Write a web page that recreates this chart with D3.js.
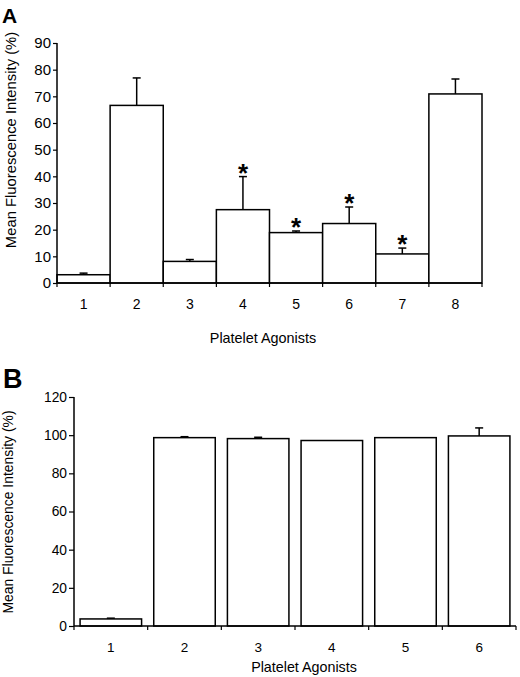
<!DOCTYPE html>
<html>
<head>
<meta charset="utf-8">
<script src="https://cdn.jsdelivr.net/npm/d3@7"></script>
<style>
  body { margin: 0; background: #fff; }
  text { font-family: "Liberation Sans", Arial, sans-serif; fill: #000; }
</style>
</head>
<body>
<svg id="chart" width="520" height="677"></svg>
<script>
// panel A
const agonistsA = ["1", "2", "3", "4", "5", "6", "7", "8"];
const meanA = [3.1, 66.6, 8.1, 27.5, 18.9, 22.3, 10.9, 70.9];
const errA = [0.6, 10.3, 0.7, 12.4, 0.6, 6.2, 2.2, 5.6];
const starA = [false, false, false, true, true, true, true, false];
const ticksA = [0, 10, 20, 30, 40, 50, 60, 70, 80, 90];

// panel B
const agonistsB = ["1", "2", "3", "4", "5", "6"];
const meanB = [3.7, 98.7, 98.2, 97.2, 98.7, 99.6];
const errB = [0.4, 0.5, 0.7, 0, 0, 4.2];
const starB = [false, false, false, false, false, false];
const ticksB = [0, 20, 40, 60, 80, 100, 120];

const svg = d3.select("#chart");

function drawPanel(p) {
  const g = svg.append("g");
  const x = d3.scaleBand().domain(p.cats).range([p.left, p.right]).paddingInner(p.pad).paddingOuter(p.pad / 2);
  const y = d3.scaleLinear().domain([0, d3.max(p.ticks)]).range([p.bottom, p.top]);
  const rows = p.cats.map((c, i) => ({ c, v: p.mean[i], e: p.err[i], s: p.star[i] }));

  // bars
  g.selectAll("rect.bar").data(rows).join("rect")
    .attr("class", "bar")
    .attr("x", d => x(d.c))
    .attr("y", d => y(d.v))
    .attr("width", x.bandwidth())
    .attr("height", d => y(0) - y(d.v))
    .attr("fill", "#fff")
    .attr("stroke", "#000")
    .attr("stroke-width", 1.5);

  // error bars (upper half only)
  const eb = g.selectAll("g.err").data(rows.filter(d => d.e > 0)).join("g").attr("class", "err");
  eb.append("line")
    .attr("x1", d => x(d.c) + x.bandwidth() / 2).attr("x2", d => x(d.c) + x.bandwidth() / 2)
    .attr("y1", d => y(d.v)).attr("y2", d => y(d.v + d.e))
    .attr("stroke", "#000").attr("stroke-width", 1.5);
  eb.append("line")
    .attr("x1", d => x(d.c) + x.bandwidth() / 2 - 4).attr("x2", d => x(d.c) + x.bandwidth() / 2 + 4)
    .attr("y1", d => y(d.v + d.e)).attr("y2", d => y(d.v + d.e))
    .attr("stroke", "#000").attr("stroke-width", 1.5);

  // significance stars
  g.selectAll("text.star").data(rows.filter(d => d.s)).join("text")
    .attr("class", "star")
    .attr("x", d => x(d.c) + x.bandwidth() / 2)
    .attr("y", d => y(d.v + d.e) + 5)
    .attr("text-anchor", "middle")
    .style("font-size", "26px")
    .style("font-weight", "bold")
    .text("*");

  // y axis
  const yAxis = g.append("g")
    .attr("transform", `translate(${p.left},0)`)
    .call(d3.axisLeft(y).tickValues(p.ticks).tickSize(p.yTick).tickPadding(2));
  yAxis.select(".domain").attr("d", `M0,${p.top}V${p.bottom}`).attr("stroke-width", 1.5);
  yAxis.selectAll(".tick line").attr("stroke-width", 1.2);
  yAxis.selectAll(".tick text").style("font-size", p.yFont + "px").attr("fill", "#000");

  // x axis: ticks sit on band edges
  const edges = p.cats.map(c => x(c) - x.step() * p.pad / 2).concat([p.right]);
  g.append("line")
    .attr("x1", p.left).attr("x2", p.right)
    .attr("y1", p.bottom).attr("y2", p.bottom)
    .attr("stroke", "#000").attr("stroke-width", 1.5);
  g.selectAll("line.xtick").data(edges).join("line")
    .attr("class", "xtick")
    .attr("x1", d => d).attr("x2", d => d)
    .attr("y1", p.bottom).attr("y2", p.bottom + 4)
    .attr("stroke", "#000").attr("stroke-width", 1.2);
  g.selectAll("text.xlab").data(p.cats).join("text")
    .attr("class", "xlab")
    .attr("x", d => x(d) + x.bandwidth() / 2)
    .attr("y", p.xLabY)
    .attr("text-anchor", "middle")
    .style("font-size", p.xFont + "px")
    .text(d => d);

  // titles
  g.append("text")
    .attr("x", p.xTitleX).attr("y", p.xTitleY)
    .attr("text-anchor", "middle")
    .style("font-size", p.xTitleFont + "px")
    .text("Platelet Agonists");
  g.append("text")
    .attr("transform", `translate(${p.yTitleX},${p.yTitleY}) rotate(-90)`)
    .attr("text-anchor", "middle")
    .style("font-size", p.yTitleFont + "px")
    .text("Mean Fluorescence Intensity (%)");
  g.append("text")
    .attr("x", p.letterX).attr("y", p.letterY)
    .style("font-size", p.letterFont + "px")
    .style("font-weight", "bold")
    .text(p.letter);
}

drawPanel({
  cats: agonistsA, mean: meanA, err: errA, star: starA, ticks: ticksA,
  left: 57, right: 482, top: 43, bottom: 283, pad: 0,
  yTick: 4, yFont: 15, xFont: 14, xLabY: 309,
  xTitleFont: 14.4, xTitleX: 263, xTitleY: 343,
  yTitleFont: 14.8, yTitleX: 16, yTitleY: 140,
  letter: "A", letterX: 2, letterY: 23, letterFont: 21
});

drawPanel({
  cats: agonistsB, mean: meanB, err: errB, star: starB, ticks: ticksB,
  left: 74, right: 516, top: 397, bottom: 626, pad: 0.165,
  yTick: 5, yFont: 13.8, xFont: 13.5, xLabY: 652,
  xTitleFont: 14.3, xTitleX: 304, xTitleY: 672,
  yTitleFont: 13.9, yTitleX: 13, yTitleY: 512,
  letter: "B", letterX: 3, letterY: 388, letterFont: 27
});
</script>
</body>
</html>
